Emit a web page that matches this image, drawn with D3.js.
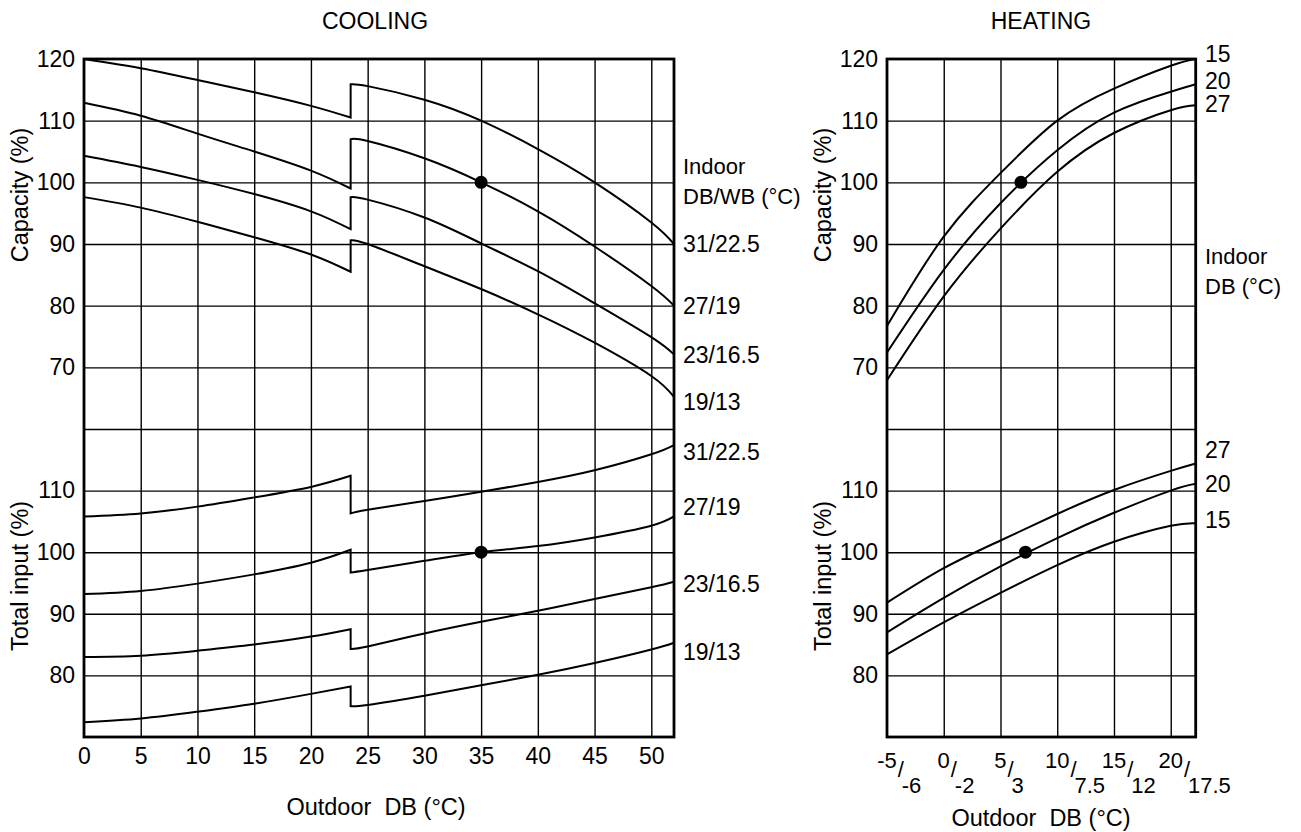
<!doctype html>
<html>
<head>
<meta charset="utf-8">
<title>Cooling / heating capacity</title>
<script src="https://cdn.jsdelivr.net/npm/d3@7"></script>
<style>
  body { margin: 0; background: #fff; }
  svg { display: block; font-family: "Liberation Sans", Arial, sans-serif; }
  text { fill: #000; }
  .grid line { stroke: #000; stroke-width: 1.4; }
  .grid path { display: none; }
  .tick-lbl path, .tick-lbl line { display: none; }
  .tick-lbl text { font-size: 23px; }
  .frame { fill: none; stroke: #000; stroke-width: 2.8; }
  .curve { fill: none; stroke: #000; stroke-width: 2; }
</style>
</head>
<body>
<svg id="chart" width="1301" height="832"></svg>
<script>
// cooling: outdoor DB steps, split at the jump (23.5 °C)
const coolX1 = [0, 5, 10, 15, 20, 23.5];
const coolX2 = [23.5, 25, 30, 35, 40, 45, 50, 52];
const coolSeries = ["31/22.5", "27/19", "23/16.5", "19/13"];

// capacity (%) for each indoor DB/WB, before and after the jump
const coolCap1 = [
  [120.0, 118.5, 116.6, 114.6, 112.4, 110.5],
  [112.9, 110.8, 107.9, 105.0, 101.9, 99.0],
  [104.3, 102.5, 100.4, 98.1, 95.3, 92.4],
  [97.6, 95.9, 93.6, 91.1, 88.3, 85.5]
];
const coolCap2 = [
  [115.9, 115.6, 113.4, 110.0, 105.4, 100.0, 93.5, 90.0],
  [107.0, 106.7, 103.9, 100.0, 95.3, 89.6, 83.2, 80.0],
  [97.6, 97.2, 94.3, 90.1, 85.6, 80.4, 74.9, 72.1],
  [90.6, 90.0, 86.4, 82.7, 78.6, 74.0, 68.6, 65.2]
];
// total input (%)
const coolInp1 = [
  [105.8, 106.3, 107.4, 108.9, 110.6, 112.4],
  [93.2, 93.7, 94.9, 96.4, 98.3, 100.4],
  [83.0, 83.2, 84.0, 85.0, 86.3, 87.5],
  [72.4, 73.0, 74.1, 75.4, 77.0, 78.2]
];
const coolInp2 = [
  [106.3, 106.9, 108.3, 109.8, 111.4, 113.3, 115.9, 117.4],
  [96.7, 97.1, 98.6, 100.0, 101.0, 102.4, 104.3, 105.8],
  [84.3, 84.7, 86.8, 88.7, 90.5, 92.4, 94.3, 95.2],
  [75.0, 75.2, 76.7, 78.4, 80.1, 82.0, 84.2, 85.3]
];
const coolCapLblY = [90.0, 80.0, 72.0, 64.4];   // where the right labels sit
const coolInpLblY = [116.3, 107.4, 94.8, 83.8];

// heating
const heatX = [-5, 0, 5, 10, 15, 20, 22.2];
const heatTicks = [-5, 0, 5, 10, 15, 20];
const heatTicksWB = ["-6", "-2", "3", "7.5", "12", "17.5"];
const heatCapSeries = ["15", "20", "27"];
const heatCap = [
  [76.7, 91.2, 101.5, 110.0, 115.2, 118.9, 120.0],
  [72.4, 85.8, 96.6, 105.2, 111.3, 114.7, 115.9],
  [67.9, 81.5, 92.5, 101.7, 108.0, 111.7, 112.5]
];
const heatInpSeries = ["27", "20", "15"];
const heatInp = [
  [91.8, 97.4, 101.9, 106.2, 110.1, 113.2, 114.4],
  [87.0, 92.6, 97.7, 102.3, 106.4, 110.0, 111.1],
  [83.4, 88.6, 93.4, 97.9, 101.7, 104.3, 104.7]
];
const heatCapLblY = [120.8, 116.5, 112.7];
const heatInpLblY = [116.6, 111.0, 105.3];

// rated points
const coolDot = [35, 100];
const heatCapDot = [6.8, 100];
const heatInpDot = [7.2, 100];

const svg = d3.select("#chart");
const plotTop = 59, plotMid = 429, plotBottom = 737;
const yCap = d3.scaleLinear([60, 120], [plotMid, plotTop]);
const yInp = d3.scaleLinear([70, 120], [plotBottom, plotMid]);
const xCool = d3.scaleLinear([0, 52], [84, 674]);
const xHeat = d3.scaleLinear([-5, 22.2], [887, 1195.7]);

function panel(x, xGrid) {
  const g = svg.append("g");
  const [x0, x1] = x.range();
  g.append("g").attr("class", "grid").attr("transform", `translate(0,${plotBottom})`)
    .call(d3.axisBottom(x).tickValues(xGrid).tickSize(-(plotBottom - plotTop)).tickFormat(""));
  g.append("g").attr("class", "grid").attr("transform", `translate(${x0},0)`)
    .call(d3.axisLeft(yCap).tickValues([60, 70, 80, 90, 100, 110]).tickSize(-(x1 - x0)).tickFormat(""));
  g.append("g").attr("class", "grid").attr("transform", `translate(${x0},0)`)
    .call(d3.axisLeft(yInp).tickValues([80, 90, 100, 110]).tickSize(-(x1 - x0)).tickFormat(""));
  g.append("rect").attr("class", "frame").attr("x", x0).attr("y", plotTop)
    .attr("width", x1 - x0).attr("height", plotBottom - plotTop);
  g.append("g").attr("class", "tick-lbl").attr("transform", `translate(${x0 - 3},0)`)
    .call(d3.axisLeft(yCap).tickValues([70, 80, 90, 100, 110, 120]).tickSize(0).tickPadding(6));
  g.append("g").attr("class", "tick-lbl").attr("transform", `translate(${x0 - 3},0)`)
    .call(d3.axisLeft(yInp).tickValues([80, 90, 100, 110]).tickSize(0).tickPadding(6));
  const cx = x0 - 64;
  g.append("text").attr("transform", `translate(${cx},195) rotate(-90)`)
    .attr("text-anchor", "middle").attr("dy", "0.35em").attr("font-size", 23.5).text("Capacity (%)");
  g.append("text").attr("transform", `translate(${cx},576) rotate(-90)`)
    .attr("text-anchor", "middle").attr("dy", "0.35em").attr("font-size", 23.5).text("Total input (%)");
  return g;
}

function jumpPath(x, y, xa, ya, xb, yb) {
  const ln = d3.line().x(d => x(d[0])).y(d => y(d[1])).curve(d3.curveNatural);
  const a = ln(xa.map((v, i) => [v, ya[i]]));
  const b = ln(xb.map((v, i) => [v, yb[i]]));
  return a + b.replace(/^M/, "L");
}

// ---- cooling ----
const gc = panel(xCool, d3.range(5, 52, 5));
gc.append("g").attr("class", "tick-lbl").attr("transform", `translate(0,${plotBottom})`)
  .call(d3.axisBottom(xCool).tickValues(d3.range(0, 55, 5)).tickSize(0).tickPadding(11));
coolSeries.forEach((s, i) => {
  gc.append("path").attr("class", "curve").attr("d", jumpPath(xCool, yCap, coolX1, coolCap1[i], coolX2, coolCap2[i]));
  gc.append("path").attr("class", "curve").attr("d", jumpPath(xCool, yInp, coolX1, coolInp1[i], coolX2, coolInp2[i]));
  gc.append("text").attr("x", 683).attr("y", yCap(coolCapLblY[i])).attr("dy", "0.35em").attr("font-size", 23).text(s);
  gc.append("text").attr("x", 683).attr("y", yInp(coolInpLblY[i])).attr("dy", "0.35em").attr("font-size", 23).text(s);
});
gc.append("text").attr("x", 683).attr("y", yCap(101.3)).attr("font-size", 22)
  .selectAll("tspan").data(["Indoor", "DB/WB (°C)"]).join("tspan")
  .attr("x", 683).attr("dy", (d, i) => i ? 30 : 0).text(d => d);
gc.append("circle").attr("cx", xCool(coolDot[0])).attr("cy", yCap(coolDot[1])).attr("r", 6.5);
gc.append("circle").attr("cx", xCool(coolDot[0])).attr("cy", yInp(coolDot[1])).attr("r", 6.5);
gc.append("text").attr("x", 376).attr("y", 815).attr("text-anchor", "middle").attr("font-size", 23.5)
  .style("white-space", "pre").text("Outdoor  DB (°C)");
gc.append("text").attr("x", 375).attr("y", 29).attr("text-anchor", "middle").attr("font-size", 23).text("COOLING");

// ---- heating ----
const gh = panel(xHeat, d3.range(0, 21, 5));
const heatLine = d3.line().x((d, i) => xHeat(heatX[i])).curve(d3.curveNatural);
heatCap.forEach((vals, i) => {
  gh.append("path").attr("class", "curve").attr("d", heatLine.y(d => yCap(d))(vals));
  gh.append("text").attr("x", 1205).attr("y", yCap(heatCapLblY[i])).attr("dy", "0.35em").attr("font-size", 23).text(heatCapSeries[i]);
});
heatInp.forEach((vals, i) => {
  gh.append("path").attr("class", "curve").attr("d", heatLine.y(d => yInp(d))(vals));
  gh.append("text").attr("x", 1205).attr("y", yInp(heatInpLblY[i])).attr("dy", "0.35em").attr("font-size", 23).text(heatInpSeries[i]);
});
gh.append("text").attr("x", 1205).attr("y", yCap(86.7)).attr("font-size", 22)
  .selectAll("tspan").data(["Indoor", "DB (°C)"]).join("tspan")
  .attr("x", 1205).attr("dy", (d, i) => i ? 30 : 0).text(d => d);
gh.append("circle").attr("cx", xHeat(heatCapDot[0])).attr("cy", yCap(heatCapDot[1])).attr("r", 6.5);
gh.append("circle").attr("cx", xHeat(heatInpDot[0])).attr("cy", yInp(heatInpDot[1])).attr("r", 6.5);

// DB / WB tick labels: upper number on the tick, slash, lower number to the right
const tk = gh.selectAll("g.htick").data(heatTicks).join("g").attr("class", "htick")
  .attr("transform", d => `translate(${xHeat(d)},0)`);
tk.each(function(d, i) {
  const g = d3.select(this);
  const up = g.append("text").attr("y", 768).attr("text-anchor", "middle").attr("font-size", 22).text(d);
  const half = up.node().getComputedTextLength() / 2;
  g.append("text").attr("x", half + 4).attr("y", 777).attr("text-anchor", "middle").attr("font-size", 22).text("/");
  g.append("text").attr("x", half + 5).attr("y", 793).attr("font-size", 22).text(heatTicksWB[i]);
});

gh.append("text").attr("x", 1041).attr("y", 826).attr("text-anchor", "middle").attr("font-size", 23.5)
  .style("white-space", "pre").text("Outdoor  DB (°C)");
gh.append("text").attr("x", 1041).attr("y", 29).attr("text-anchor", "middle").attr("font-size", 23).text("HEATING");
</script>
</body>
</html>
